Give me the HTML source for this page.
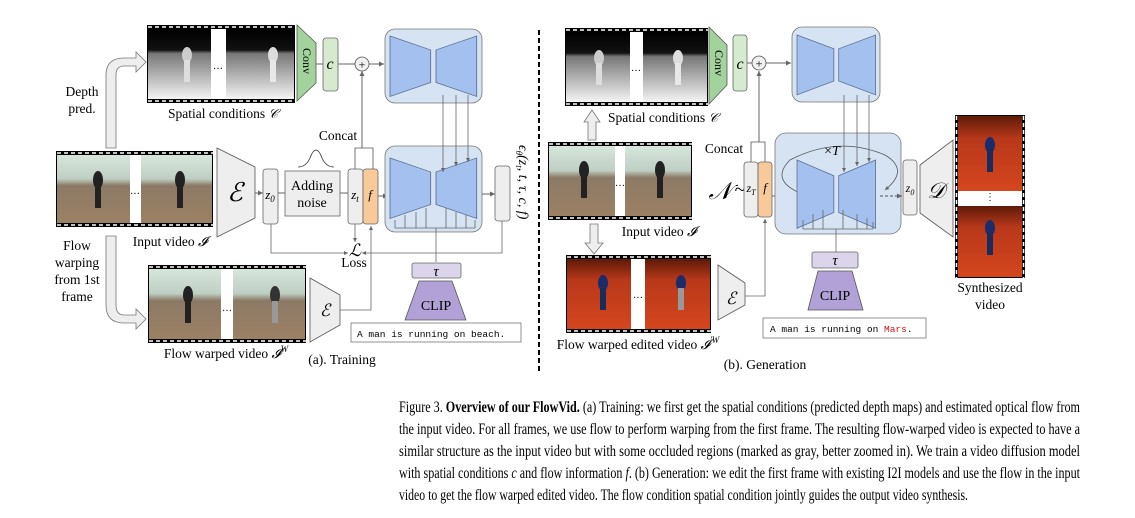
<!DOCTYPE html>
<html><head><meta charset="utf-8"><style>
html,body{margin:0;padding:0;background:#fff;}
svg{display:block;font-family:"Liberation Serif",serif;}
.mono{font-family:"Liberation Mono",monospace;}
</style></head><body>
<svg width="1135" height="518" viewBox="0 0 1135 518" xmlns="http://www.w3.org/2000/svg">
<defs>
<linearGradient id="dep" x1="0" y1="0" x2="0" y2="1">
<stop offset="0" stop-color="#000"/><stop offset="0.3" stop-color="#111"/><stop offset="0.35" stop-color="#777"/><stop offset="1" stop-color="#f4f4f4"/></linearGradient>
<linearGradient id="beach" x1="0" y1="0" x2="0" y2="1">
<stop offset="0" stop-color="#d6e6dc"/><stop offset="0.35" stop-color="#bfcfc4"/><stop offset="0.45" stop-color="#8c7a66"/><stop offset="1" stop-color="#9c8064"/></linearGradient>
<linearGradient id="mars" x1="0" y1="0" x2="0" y2="1">
<stop offset="0" stop-color="#5e1a08"/><stop offset="0.3" stop-color="#b8381a"/><stop offset="1" stop-color="#d4461e"/></linearGradient>
<marker id="ar" markerWidth="6" markerHeight="6" refX="5" refY="3" orient="auto"><path d="M0,0.5 L5,3 L0,5.5z" fill="#666"/></marker>
<g id="bowtie"><path d="M0,0 L38,15 L38,50 L0,65z M43,15 L81,0 L81,65 L43,50z" fill="#a4c0ef" stroke="#5a6d90" stroke-width="0.8"/></g>
</defs>

<line x1="539" y1="30" x2="539" y2="372" stroke="#000" stroke-width="2" stroke-dasharray="5,3"/>

<!-- LEFT -->
<rect x="147" y="25" width="148" height="78" fill="#000"/>
<rect x="148" y="29" width="63" height="70" fill="url(#dep)"/>
<rect x="226" y="29" width="68" height="70" fill="url(#dep)"/>
<rect x="211" y="29" width="15" height="70" fill="#fff"/>
<line x1="148" y1="27" x2="295" y2="27" stroke="#fff" stroke-width="1.5" stroke-dasharray="4,3"/>
<line x1="148" y1="101" x2="295" y2="101" stroke="#fff" stroke-width="1.5" stroke-dasharray="4,3"/>
<ellipse cx="187" cy="55" rx="5" ry="8" fill="#ccc"/><rect x="184" y="60" width="6" height="22" fill="#ddd"/>
<ellipse cx="273" cy="55" rx="5" ry="8" fill="#ddd"/><rect x="270" y="60" width="6" height="22" fill="#e8e8e8"/>
<text x="218" y="69" font-size="10" text-anchor="middle">…</text>
<text x="223" y="118" font-size="13.5" text-anchor="middle">Spatial conditions <tspan font-style="italic" font-family="DejaVu Serif" font-size="13">𝒞</tspan></text>
<path d="M297,25 L316,43 L316,83 L297,101z" fill="#a3d39c" stroke="#555" stroke-width="0.8"/>
<text transform="translate(303,48) rotate(90)" font-size="12">Conv</text>
<rect x="323" y="38" width="15" height="53" rx="3" fill="#d6ead0" stroke="#666" stroke-width="0.8"/>
<text x="330" y="69" font-size="16" font-style="italic" text-anchor="middle">c</text>
<line x1="316" y1="64" x2="323" y2="64" stroke="#666"/>
<line x1="338" y1="64" x2="355" y2="64" stroke="#666"/>
<circle cx="362" cy="64" r="7" fill="#f0f0f0" stroke="#555" stroke-width="0.8"/>
<text x="362" y="68.5" font-size="12" text-anchor="middle">+</text>
<line x1="369" y1="64" x2="384" y2="64" stroke="#666" marker-end="url(#ar)"/>
<rect x="385" y="29" width="97" height="74" rx="10" fill="#d5e3f3" stroke="#777" stroke-width="0.8"/>
<g transform="translate(390,36) scale(1.07,0.93)"><use href="#bowtie"/></g>
<path d="M106,148 L106,75 Q106,58 124,58 L136,58 L136,52 L146,62 L136,72 L136,66 L124,66 Q116,66 116,75 L116,148z" fill="#eee" stroke="#777" stroke-width="0.8"/>
<text x="82" y="96" font-size="13.5" text-anchor="middle">Depth</text>
<text x="82" y="113" font-size="13.5" text-anchor="middle">pred.</text>
<path d="M106,236 L106,305 Q106,323 124,323 L136,323 L136,329 L146,319 L136,309 L136,315 L124,315 Q116,315 116,305 L116,236z" fill="#eee" stroke="#777" stroke-width="0.8"/>
<text x="77" y="250" font-size="13.5" text-anchor="middle">Flow</text>
<text x="77" y="267" font-size="13.5" text-anchor="middle">warping</text>
<text x="77" y="284" font-size="13.5" text-anchor="middle">from 1st</text>
<text x="77" y="301" font-size="13.5" text-anchor="middle">frame</text>
<rect x="56" y="151" width="157" height="76" fill="#000"/>
<rect x="57" y="155" width="73" height="68" fill="url(#beach)"/>
<rect x="141" y="155" width="71" height="68" fill="url(#beach)"/>
<rect x="130" y="155" width="11" height="68" fill="#fff"/>
<line x1="57" y1="153" x2="213" y2="153" stroke="#fff" stroke-width="1.5" stroke-dasharray="4,3"/>
<line x1="57" y1="225" x2="213" y2="225" stroke="#fff" stroke-width="1.5" stroke-dasharray="4,3"/>
<ellipse cx="98" cy="180" rx="5" ry="9" fill="#222"/><rect x="95" y="186" width="6" height="22" fill="#222"/>
<ellipse cx="180" cy="180" rx="5" ry="9" fill="#222"/><rect x="177" y="186" width="6" height="22" fill="#222"/>
<text x="135" y="194" font-size="10" text-anchor="middle">…</text>
<text x="170" y="246" font-size="13.5" text-anchor="middle">Input video <tspan font-style="italic">𝓘</tspan></text>
<path d="M217,148 L255,167 L255,218 L217,237z" fill="#eee" stroke="#555" stroke-width="0.8"/>
<text x="235" y="201" font-size="26" font-style="italic" text-anchor="middle">ℰ</text>
<line x1="255" y1="193" x2="263" y2="193" stroke="#666" marker-end="url(#ar)"/>
<rect x="263" y="169" width="15" height="55" rx="3" fill="#eee" stroke="#666" stroke-width="0.8"/>
<text x="270" y="199" font-size="13" font-style="italic" text-anchor="middle">z<tspan font-size="9" dy="3">0</tspan></text>
<line x1="278" y1="193" x2="285" y2="193" stroke="#666"/>
<rect x="285" y="171" width="55" height="45" fill="#eee" stroke="#666" stroke-width="0.8"/>
<text x="312" y="190" font-size="14" text-anchor="middle">Adding</text>
<text x="312" y="207" font-size="14" text-anchor="middle">noise</text>
<path d="M298,167 Q306,167 310,158 Q316,142 322,158 Q326,167 334,167" fill="none" stroke="#333" stroke-width="0.8"/>
<line x1="340" y1="193" x2="348" y2="193" stroke="#666"/>
<rect x="348" y="169" width="15" height="55" rx="3" fill="#eee" stroke="#666" stroke-width="0.8"/>
<text x="355" y="199" font-size="13" font-style="italic" text-anchor="middle">z<tspan font-size="9" dy="3">t</tspan></text>
<rect x="363" y="169" width="15" height="55" rx="3" fill="#f8c99b" stroke="#666" stroke-width="0.8"/>
<text x="370" y="199" font-size="13" font-style="italic" text-anchor="middle">f</text>
<path d="M355,169 L355,148 L373,148 L373,169" fill="none" stroke="#555" stroke-width="0.8"/>
<line x1="362" y1="148" x2="362" y2="71" stroke="#666" marker-end="url(#ar)"/>
<text x="338" y="140" font-size="13.5" text-anchor="middle">Concat</text>
<line x1="378" y1="196" x2="388" y2="196" stroke="#666" marker-end="url(#ar)"/>
<rect x="385" y="146" width="97" height="86" rx="10" fill="#d5e3f3" stroke="#777" stroke-width="0.8"/>
<g transform="translate(390,158) scale(1.07,0.93)"><use href="#bowtie"/></g>
<g stroke="#666" stroke-width="0.8" fill="none">
<line x1="443" y1="95" x2="443" y2="172" marker-end="url(#ar)"/>
<line x1="456" y1="95" x2="456" y2="166" marker-end="url(#ar)"/>
<line x1="468" y1="95" x2="468" y2="162" marker-end="url(#ar)"/>
<path d="M395,228 L475,228 M395,228 L395,220 M405,228 L405,215 M416,228 L416,212 M426,228 L426,208 M446,228 L446,208 M456,228 L456,212 M466,228 L466,215 M475,228 L475,220"/>
<line x1="436" y1="262" x2="436" y2="228"/>
</g>
<line x1="482" y1="194" x2="495" y2="194" stroke="#666" marker-end="url(#ar)"/>
<rect x="495" y="166" width="15" height="55" rx="3" fill="#eee" stroke="#666" stroke-width="0.8"/>
<text transform="translate(519,145) rotate(90)" font-size="14" font-style="italic">ϵ<tspan font-size="9" dy="3">θ</tspan><tspan dy="-3">(z</tspan><tspan font-size="9" dy="3">t</tspan><tspan dy="-3">, t, τ, c, f)</tspan></text>
<path d="M271,224 L271,253 L348,253" fill="none" stroke="#666" stroke-width="0.8" marker-end="url(#ar)"/>
<path d="M502,221 L502,253 L362,253" fill="none" stroke="#666" stroke-width="0.8" marker-end="url(#ar)"/>
<line x1="355" y1="224" x2="355" y2="242" stroke="#666" stroke-width="0.8" marker-end="url(#ar)"/>
<text x="355" y="256" font-size="17" font-style="italic" text-anchor="middle">ℒ</text>
<text x="354" y="267" font-size="13.5" text-anchor="middle">Loss</text>
<rect x="412" y="263" width="49" height="15" rx="2" fill="#dcd4ea" stroke="#666" stroke-width="0.8"/>
<text x="436" y="276" font-size="15" font-style="italic" text-anchor="middle">τ</text>
<path d="M419,281 L452,281 L466,320 L405,320z" fill="#b1a1d6" stroke="#555" stroke-width="0.8"/>
<text x="436" y="310" font-size="14" text-anchor="middle">CLIP</text>
<rect x="351" y="323" width="170" height="19" fill="#fff" stroke="#777" stroke-width="0.8"/>
<text x="357" y="337" font-size="9.5" class="mono">A man is running on beach.</text>
<rect x="148" y="265" width="158" height="78" fill="#000"/>
<rect x="149" y="269" width="72" height="70" fill="url(#beach)"/>
<rect x="233" y="269" width="72" height="70" fill="url(#beach)"/>
<rect x="221" y="269" width="12" height="70" fill="#fff"/>
<line x1="149" y1="267" x2="306" y2="267" stroke="#fff" stroke-width="1.5" stroke-dasharray="4,3"/>
<line x1="149" y1="341" x2="306" y2="341" stroke="#fff" stroke-width="1.5" stroke-dasharray="4,3"/>
<ellipse cx="188" cy="295" rx="5" ry="9" fill="#222"/><rect x="185" y="301" width="6" height="22" fill="#222"/>
<ellipse cx="275" cy="295" rx="5" ry="9" fill="#333"/><rect x="272" y="301" width="6" height="22" fill="#999"/>
<text x="227" y="311" font-size="10" text-anchor="middle">…</text>
<text x="226" y="358" font-size="13.5" text-anchor="middle">Flow warped video <tspan font-style="italic">𝓘</tspan><tspan font-size="9" dy="-6" font-style="italic">W</tspan></text>
<path d="M310,278 L340,295 L340,325 L310,342z" fill="#eee" stroke="#555" stroke-width="0.8"/>
<text x="325" y="316" font-size="17" font-style="italic" text-anchor="middle">ℰ</text>
<path d="M340,310 L371,310 L371,226" fill="none" stroke="#666" stroke-width="0.8" marker-end="url(#ar)"/>
<text x="342" y="364" font-size="13.5" text-anchor="middle">(a). Training</text>

<!-- RIGHT -->
<rect x="565" y="28" width="143" height="78" fill="#000"/>
<rect x="566" y="32" width="64" height="70" fill="url(#dep)"/>
<rect x="643" y="32" width="64" height="70" fill="url(#dep)"/>
<rect x="630" y="32" width="13" height="70" fill="#fff"/>
<line x1="566" y1="30" x2="708" y2="30" stroke="#fff" stroke-width="1.5" stroke-dasharray="4,3"/>
<line x1="566" y1="104" x2="708" y2="104" stroke="#fff" stroke-width="1.5" stroke-dasharray="4,3"/>
<ellipse cx="599" cy="58" rx="5" ry="8" fill="#ccc"/><rect x="596" y="63" width="6" height="22" fill="#ddd"/>
<ellipse cx="678" cy="58" rx="5" ry="8" fill="#ddd"/><rect x="675" y="63" width="6" height="22" fill="#e8e8e8"/>
<text x="636" y="71" font-size="10" text-anchor="middle">…</text>
<text x="663" y="122" font-size="13.5" text-anchor="middle">Spatial conditions <tspan font-style="italic" font-family="DejaVu Serif" font-size="13">𝒞</tspan></text>
<path d="M709,27 L727,45 L727,85 L709,104z" fill="#a3d39c" stroke="#555" stroke-width="0.8"/>
<text transform="translate(715,50) rotate(90)" font-size="12">Conv</text>
<rect x="733" y="35" width="14" height="56" rx="3" fill="#d6ead0" stroke="#666" stroke-width="0.8"/>
<text x="740" y="69" font-size="16" font-style="italic" text-anchor="middle">c</text>
<line x1="747" y1="63" x2="752" y2="63" stroke="#666"/>
<circle cx="759" cy="63" r="7" fill="#f0f0f0" stroke="#555" stroke-width="0.8"/>
<text x="759" y="67.5" font-size="12" text-anchor="middle">+</text>
<line x1="766" y1="63" x2="791" y2="63" stroke="#666" marker-end="url(#ar)"/>
<rect x="792" y="27" width="88" height="75" rx="10" fill="#d5e3f3" stroke="#777" stroke-width="0.8"/>
<g transform="translate(797,35) scale(0.97,0.92)"><use href="#bowtie"/></g>
<path d="M588,140 L588,122 L584,122 L592,110 L600,122 L596,122 L596,140z" fill="#eee" stroke="#777" stroke-width="0.8"/>
<path d="M590,224 L590,243 L585,243 L594,254 L603,243 L598,243 L598,224z" fill="#eee" stroke="#777" stroke-width="0.8"/>
<rect x="548" y="142" width="144" height="78" fill="#000"/>
<rect x="549" y="146" width="66" height="70" fill="url(#beach)"/>
<rect x="625" y="146" width="66" height="70" fill="url(#beach)"/>
<rect x="615" y="146" width="10" height="70" fill="#fff"/>
<line x1="549" y1="144" x2="692" y2="144" stroke="#fff" stroke-width="1.5" stroke-dasharray="4,3"/>
<line x1="549" y1="218" x2="692" y2="218" stroke="#fff" stroke-width="1.5" stroke-dasharray="4,3"/>
<ellipse cx="584" cy="170" rx="5" ry="9" fill="#222"/><rect x="581" y="176" width="6" height="22" fill="#222"/>
<ellipse cx="660" cy="170" rx="5" ry="9" fill="#222"/><rect x="657" y="176" width="6" height="22" fill="#222"/>
<text x="620" y="186" font-size="10" text-anchor="middle">…</text>
<text x="659" y="236" font-size="13.5" text-anchor="middle">Input video <tspan font-style="italic">𝓘</tspan></text>
<text x="720" y="199" font-size="24" font-style="italic" text-anchor="middle">𝒩</text>
<text x="740" y="196" font-size="20" text-anchor="middle">~</text>
<rect x="744" y="162" width="14" height="55" rx="3" fill="#eee" stroke="#666" stroke-width="0.8"/>
<text x="751" y="192" font-size="12" font-style="italic" text-anchor="middle">z<tspan font-size="8" dy="3">T</tspan></text>
<rect x="758" y="162" width="14" height="55" rx="3" fill="#f8c99b" stroke="#666" stroke-width="0.8"/>
<text x="765" y="192" font-size="13" font-style="italic" text-anchor="middle">f</text>
<path d="M751,162 L751,142 L765,142 L765,162" fill="none" stroke="#555" stroke-width="0.8"/>
<line x1="759" y1="142" x2="759" y2="71" stroke="#666" marker-end="url(#ar)"/>
<text x="724" y="153" font-size="13.5" text-anchor="middle">Concat</text>
<line x1="772" y1="196" x2="797" y2="196" stroke="#666" marker-end="url(#ar)"/>
<rect x="775" y="133" width="126" height="101" rx="11" fill="#d5e3f3" stroke="#777" stroke-width="0.8"/>
<path d="M800,193 Q770,180 790,160 Q838,135 885,155 Q910,170 885,190" fill="none" stroke="#555" stroke-width="0.8" marker-end="url(#ar)"/>
<text x="832" y="155" font-size="14" text-anchor="middle">×<tspan font-style="italic">T</tspan></text>
<g transform="translate(797,160) scale(0.97,1.05)"><use href="#bowtie"/></g>
<g stroke="#666" stroke-width="0.8" fill="none">
<line x1="844" y1="95" x2="844" y2="172" marker-end="url(#ar)"/>
<line x1="857" y1="95" x2="857" y2="166" marker-end="url(#ar)"/>
<line x1="869" y1="95" x2="869" y2="162" marker-end="url(#ar)"/>
<path d="M803,229 L873,229 M803,229 L803,220 M813,229 L813,214 M823,229 L823,210 M843,229 L843,210 M857,229 L857,214 M867,229 L867,218 M873,229 L873,222"/>
<line x1="836" y1="252" x2="836" y2="229"/>
</g>
<line x1="880" y1="196" x2="902" y2="196" stroke="#555" stroke-dasharray="3,2" marker-end="url(#ar)"/>
<rect x="903" y="160" width="14" height="55" rx="3" fill="#eee" stroke="#666" stroke-width="0.8"/>
<text x="910" y="192" font-size="12" font-style="italic" text-anchor="middle">z<tspan font-size="8" dy="3">0</tspan></text>
<path d="M920,165 L953,140 L953,237 L920,213z" fill="#eee" stroke="#555" stroke-width="0.8"/>
<text x="936" y="198" font-size="22" font-style="italic" text-anchor="middle">𝒟</text>
<rect x="955" y="115" width="70" height="163" fill="#000"/>
<rect x="958" y="116" width="64" height="75" fill="url(#mars)"/>
<rect x="958" y="206" width="64" height="71" fill="url(#mars)"/>
<rect x="958" y="191" width="64" height="15" fill="#fff"/>
<line x1="956.5" y1="116" x2="956.5" y2="278" stroke="#fff" stroke-width="1.5" stroke-dasharray="4,3"/>
<line x1="1023.5" y1="116" x2="1023.5" y2="278" stroke="#fff" stroke-width="1.5" stroke-dasharray="4,3"/>
<ellipse cx="990" cy="145" rx="5" ry="8" fill="#1c2c6a"/><rect x="987" y="150" width="6" height="22" fill="#1c2c5a"/>
<ellipse cx="990" cy="228" rx="5" ry="8" fill="#1c2c6a"/><rect x="987" y="233" width="6" height="22" fill="#1c2c5a"/>
<text x="990" y="200" font-size="10" text-anchor="middle">⋮</text>
<text x="990" y="292" font-size="13.5" text-anchor="middle">Synthesized</text>
<text x="990" y="309" font-size="13.5" text-anchor="middle">video</text>
<rect x="812" y="252" width="46" height="16" rx="2" fill="#dcd4ea" stroke="#666" stroke-width="0.8"/>
<text x="835" y="265" font-size="15" font-style="italic" text-anchor="middle">τ</text>
<path d="M818,271 L852,271 L863,310 L808,310z" fill="#b1a1d6" stroke="#555" stroke-width="0.8"/>
<text x="835" y="300" font-size="14" text-anchor="middle">CLIP</text>
<rect x="763" y="318" width="163" height="20" fill="#fff" stroke="#777" stroke-width="0.8"/>
<text x="770" y="332" font-size="9.5" class="mono">A man is running on <tspan fill="#d01818">Mars</tspan>.</text>
<rect x="566" y="255" width="145" height="78" fill="#000"/>
<rect x="567" y="259" width="64" height="70" fill="url(#mars)"/>
<rect x="645" y="259" width="65" height="70" fill="url(#mars)"/>
<rect x="631" y="259" width="14" height="70" fill="#fff"/>
<line x1="567" y1="257" x2="711" y2="257" stroke="#fff" stroke-width="1.5" stroke-dasharray="4,3"/>
<line x1="567" y1="331" x2="711" y2="331" stroke="#fff" stroke-width="1.5" stroke-dasharray="4,3"/>
<ellipse cx="603" cy="283" rx="5" ry="8" fill="#1c2c6a"/><rect x="600" y="288" width="6" height="22" fill="#1c2c5a"/>
<ellipse cx="681" cy="283" rx="5" ry="8" fill="#1c2c6a"/><rect x="678" y="288" width="6" height="22" fill="#999"/>
<text x="638" y="298" font-size="10" text-anchor="middle">…</text>
<text x="638" y="349" font-size="13.5" text-anchor="middle">Flow warped edited video <tspan font-style="italic">𝓘</tspan><tspan font-size="9" dy="-6" font-style="italic">′W</tspan></text>
<path d="M718,265 L745,283 L745,305 L718,320z" fill="#eee" stroke="#555" stroke-width="0.8"/>
<text x="731" y="304" font-size="17" font-style="italic" text-anchor="middle">ℰ</text>
<path d="M745,296 L765,296 L765,219" fill="none" stroke="#666" stroke-width="0.8" marker-end="url(#ar)"/>
<text x="765" y="369" font-size="13.5" text-anchor="middle">(b). Generation</text>

<g font-size="15.8">
<text x="399" y="412" textLength="681" lengthAdjust="spacingAndGlyphs">Figure 3. <tspan font-weight="bold">Overview of our FlowVid.</tspan> (a) Training: we first get the spatial conditions (predicted depth maps) and estimated optical flow from</text>
<text x="399" y="434" textLength="681" lengthAdjust="spacingAndGlyphs">the input video. For all frames, we use flow to perform warping from the first frame. The resulting flow-warped video is expected to have a</text>
<text x="399" y="456" textLength="681" lengthAdjust="spacingAndGlyphs">similar structure as the input video but with some occluded regions (marked as gray, better zoomed in). We train a video diffusion model</text>
<text x="399" y="478" textLength="681" lengthAdjust="spacingAndGlyphs">with spatial conditions <tspan font-style="italic">c</tspan> and flow information <tspan font-style="italic">f</tspan>. (b) Generation: we edit the first frame with existing I2I models and use the flow in the input</text>
<text x="399" y="500" textLength="569" lengthAdjust="spacingAndGlyphs">video to get the flow warped edited video. The flow condition spatial condition jointly guides the output video synthesis.</text>
</g>
</svg>
</body></html>
